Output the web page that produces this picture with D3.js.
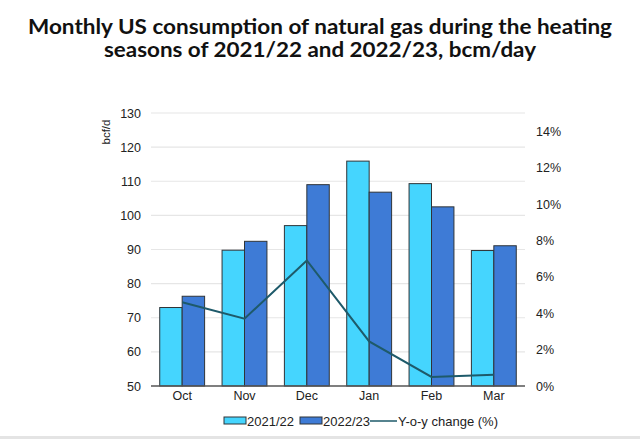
<!DOCTYPE html>
<html>
<head>
<meta charset="utf-8">
<script src="https://cdn.jsdelivr.net/npm/d3@7"></script>
<style>
  html, body { margin: 0; padding: 0; background: #fff; }
  svg { display: block; }
</style>
</head>
<body>
<svg id="chart" width="640" height="439"></svg>
<script>
const months = ["Oct", "Nov", "Dec", "Jan", "Feb", "Mar"];
const season2122 = [73.0, 89.8, 97.0, 115.9, 109.3, 89.7];
const season2223 = [76.3, 92.4, 109.0, 106.8, 102.5, 91.1];
const yoyChange = [4.6, 3.7, 6.9, 2.45, 0.5, 0.62];
const leftTicks = [50, 60, 70, 80, 90, 100, 110, 120, 130];
const rightTicks = [0, 2, 4, 6, 8, 10, 12, 14];
const seriesNames = ["2021/22", "2022/23", "Y-o-y change (%)"];
const titleLines = ["Monthly US consumption of natural gas during the heating",
                    "seasons of 2021/22 and 2022/23, bcm/day"];

const svg = d3.select("#chart");
const W = 640, H = 439;
const m = { left: 151, right: 525, top: 113, bottom: 386 };
const font = "'Liberation Sans', Arial, sans-serif";
const cLight = "#45d5fe", cDark = "#3e7bd6", cLine = "#1e5a6a", cStroke = "#2f3438";

// title
const tl = [{ t: titleLines[0], y: 34, w: 584 }, { t: titleLines[1], y: 57, w: 432 }];
svg.selectAll("text.title").data(tl).join("text")
  .attr("class", "title")
  .attr("x", W / 2).attr("y", d => d.y)
  .attr("text-anchor", "middle")
  .attr("font-family", "Lato, 'Open Sans', sans-serif")
  .attr("font-weight", "bold").attr("font-size", 20)
  .attr("textLength", d => d.w).attr("lengthAdjust", "spacingAndGlyphs")
  .attr("fill", "#111")
  .text(d => d.t);

const x = d3.scaleBand().domain(months).range([m.left, m.right]).paddingInner(0.28).paddingOuter(0.14);
const xc = d3.scaleBand().domain(months).range([m.left, m.right]);
const y = d3.scaleLinear().domain([50, 130]).range([m.bottom, m.top]);
const y2 = d3.scaleLinear().domain([0, 15]).range([m.bottom, m.top]);

// gridlines
svg.append("g").selectAll("line").data(leftTicks.slice(1)).join("line")
  .attr("x1", m.left).attr("x2", m.right)
  .attr("y1", d => y(d)).attr("y2", d => y(d))
  .attr("stroke", "#e6e6e6").attr("stroke-width", 1.2);

// left axis
const gl = svg.append("g").attr("transform", `translate(${m.left - 10},0)`)
  .call(d3.axisLeft(y).tickValues(leftTicks).tickSize(0).tickPadding(0));
gl.select(".domain").remove();
gl.selectAll("text").attr("font-family", font).attr("font-size", 12.5).attr("fill", "#222");

// right axis
const gr = svg.append("g").attr("transform", `translate(${536},0)`)
  .call(d3.axisRight(y2).tickValues(rightTicks).tickFormat(d => d + "%").tickSize(0).tickPadding(0));
gr.select(".domain").remove();
gr.selectAll("text").attr("font-family", font).attr("font-size", 12.5).attr("fill", "#222");

// y label
svg.append("text")
  .attr("transform", `translate(${110},${132}) rotate(-90)`)
  .attr("text-anchor", "middle")
  .attr("font-family", font).attr("font-size", 11.5).attr("fill", "#222")
  .text("bcf/d");

// bars
const bw = x.bandwidth() / 2;
svg.append("g").selectAll("rect").data(months).join("rect")
  .attr("x", d => x(d)).attr("width", bw)
  .attr("y", (d, i) => y(season2122[i])).attr("height", (d, i) => y(50) - y(season2122[i]))
  .attr("fill", cLight).attr("stroke", cStroke).attr("stroke-width", 1);
svg.append("g").selectAll("rect").data(months).join("rect")
  .attr("x", d => x(d) + bw).attr("width", bw)
  .attr("y", (d, i) => y(season2223[i])).attr("height", (d, i) => y(50) - y(season2223[i]))
  .attr("fill", cDark).attr("stroke", cStroke).attr("stroke-width", 1);

// baseline
svg.append("line").attr("x1", m.left).attr("x2", m.right)
  .attr("y1", m.bottom).attr("y2", m.bottom)
  .attr("stroke", "#555").attr("stroke-width", 1.5);

// x axis labels
const gx = svg.append("g").attr("transform", `translate(0,${m.bottom + 5})`)
  .call(d3.axisBottom(xc).tickSize(0).tickPadding(0));
gx.select(".domain").remove();
gx.selectAll("text").attr("font-family", font).attr("font-size", 12.5).attr("fill", "#222");

// line
const line = d3.line().x((d, i) => xc(months[i]) + xc.bandwidth() / 2).y(d => y2(d));
svg.append("path").datum(yoyChange).attr("d", line)
  .attr("fill", "none").attr("stroke", cLine).attr("stroke-width", 2);

// legend
const lg = svg.append("g").attr("font-family", font).attr("font-size", 13).attr("fill", "#222");
const ly = 421;
lg.append("rect").attr("x", 224).attr("y", ly - 4).attr("width", 22).attr("height", 7)
  .attr("fill", cLight).attr("stroke", cStroke);
lg.append("text").attr("x", 247).attr("y", ly + 4.5).text(seriesNames[0]);
lg.append("rect").attr("x", 300).attr("y", ly - 4).attr("width", 22).attr("height", 7)
  .attr("fill", cDark).attr("stroke", cStroke);
lg.append("text").attr("x", 323).attr("y", ly + 4.5).text(seriesNames[1]);
lg.append("line").attr("x1", 370).attr("x2", 397).attr("y1", ly).attr("y2", ly)
  .attr("stroke", cLine).attr("stroke-width", 1.5);
lg.append("text").attr("x", 398).attr("y", ly + 4.5).text(seriesNames[2]);

// bottom border
svg.append("rect").attr("x", 0).attr("y", 436).attr("width", W).attr("height", 3).attr("fill", "#e4e4e4");
</script>
</body>
</html>
